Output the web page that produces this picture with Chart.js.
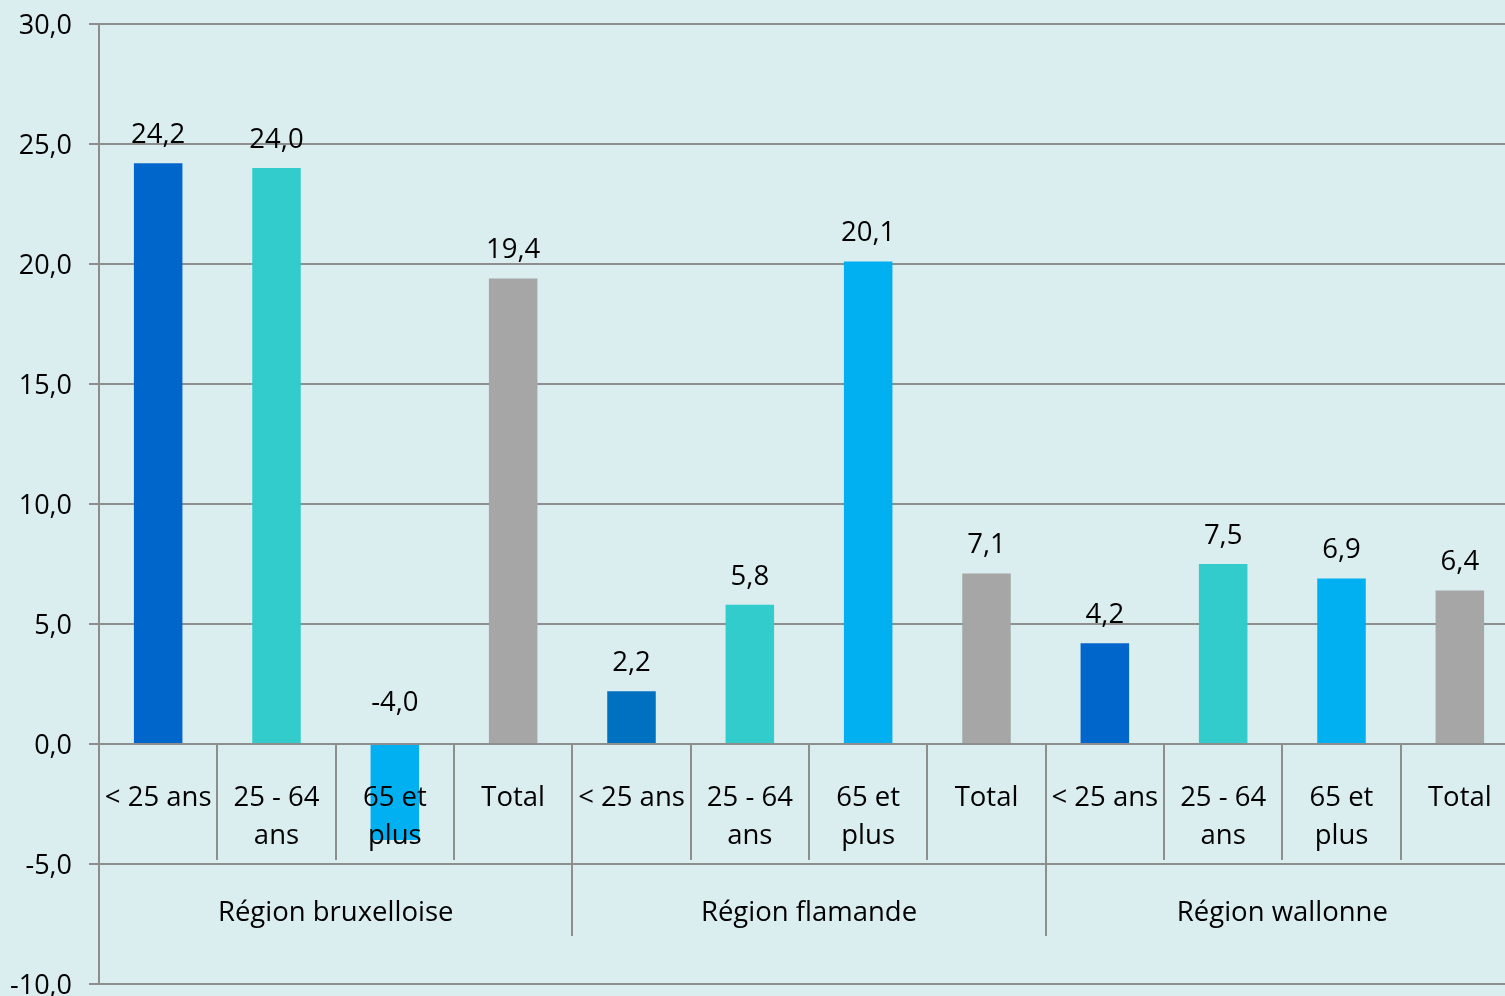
<!DOCTYPE html>
<html>
<head>
<meta charset="utf-8">
<script src="https://cdn.jsdelivr.net/npm/chart.js@4/dist/chart.umd.min.js"></script>
<style>
  html, body { margin: 0; padding: 0; background: #DAEDEF; }
  #wrap { width: 1505px; height: 996px; position: relative; overflow: hidden; }
</style>
</head>
<body>
<div id="wrap"><canvas id="c" width="1519" height="996"></canvas></div>
<script>
const categories = ['< 25 ans', '25 - 64 ans', '65 et plus', 'Total',
                    '< 25 ans', '25 - 64 ans', '65 et plus', 'Total',
                    '< 25 ans', '25 - 64 ans', '65 et plus', 'Total'];
const categoryLines = [['< 25 ans'], ['25 - 64', 'ans'], ['65 et', 'plus'], ['Total'],
                       ['< 25 ans'], ['25 - 64', 'ans'], ['65 et', 'plus'], ['Total'],
                       ['< 25 ans'], ['25 - 64', 'ans'], ['65 et', 'plus'], ['Total']];
const groups = ['Région bruxelloise', 'Région flamande', 'Région wallonne'];
const groupSize = 4;
const values = [24.2, 24.0, -4.0, 19.4, 2.2, 5.8, 20.1, 7.1, 4.2, 7.5, 6.9, 6.4];
const barColors = ['#0066CC', '#33CCCC', '#00B0F0', '#A6A6A6',
                   '#0070C0', '#33CCCC', '#00B0F0', '#A6A6A6',
                   '#0066CC', '#33CCCC', '#00B0F0', '#A6A6A6'];
const yMin = -10, yMax = 30, yStep = 5;

const FONT = '"Open Sans", "Noto Sans", sans-serif';
const FS = 27.5;
const fmt = v => v.toFixed(1).replace('.', ',');
const GRID = '#8E8E8E';

const labelsPlugin = {
  id: 'customLabels',
  afterDatasetsDraw(chart) {
    const ctx = chart.ctx;
    const x = chart.scales.x, y = chart.scales.y;
    const y0 = y.getPixelForValue(0);
    const yM5 = y.getPixelForValue(-5);
    const step = x.getPixelForValue(1) - x.getPixelForValue(0);
    ctx.save();
    // separators
    ctx.strokeStyle = GRID;
    ctx.lineWidth = 2;
    for (let i = 1; i < categories.length; i++) {
      const bx = Math.round(x.getPixelForValue(i) - step / 2);
      const isGroup = i % groupSize === 0;
      ctx.beginPath();
      ctx.moveTo(bx, y0);
      ctx.lineTo(bx, isGroup ? yM5 + (yM5 - y0) * 0.6 : yM5 - 4);
      ctx.stroke();
    }
    // category labels
    ctx.fillStyle = '#000';
    ctx.font = FS + 'px ' + FONT;
    ctx.textAlign = 'center';
    ctx.textBaseline = 'middle';
    categoryLines.forEach((lines, i) => {
      const cx = x.getPixelForValue(i);
      lines.forEach((ln, k) => ctx.fillText(ln, cx, y0 + 54 + k * 38));
    });
    // group labels
    groups.forEach((g, gi) => {
      const a = x.getPixelForValue(gi * groupSize) - step / 2;
      const b = x.getPixelForValue(gi * groupSize + groupSize - 1) + step / 2;
      ctx.fillText(g, (a + b) / 2, yM5 + 49);
    });
    // data labels
    const meta = chart.getDatasetMeta(0);
    values.forEach((v, i) => {
      const cx = meta.data[i].x;
      const ty = v >= 0 ? y.getPixelForValue(v) - 28 : y0 - 41;
      ctx.fillText(fmt(v), cx, ty);
    });
    ctx.restore();
  }
};

new Chart(document.getElementById('c'), {
  type: 'bar',
  data: {
    labels: categories,
    datasets: [{
      data: values,
      backgroundColor: barColors,
      borderWidth: 0,
      categoryPercentage: 1,
      barPercentage: 0.41
    }]
  },
  options: {
    responsive: false,
    animation: false,
    layout: { padding: { top: 24, bottom: 12, right: 0, left: 0 } },
    plugins: { legend: { display: false }, tooltip: { enabled: false } },
    scales: {
      x: { display: false, offset: true },
      y: {
        min: yMin, max: yMax,
        afterFit(s) { s.width = 99; s.paddingTop = 0; s.paddingBottom = 0; },
        ticks: {
          stepSize: yStep,
          padding: 17,
          labelOffset: 2,
          color: '#000',
          font: { family: FONT, size: 27 },
          callback: v => fmt(v)
        },
        grid: { color: GRID, lineWidth: 2, tickLength: 10, drawTicks: true },
        border: { color: GRID, width: 2 }
      }
    }
  },
  plugins: [labelsPlugin]
});
</script>
</body>
</html>
